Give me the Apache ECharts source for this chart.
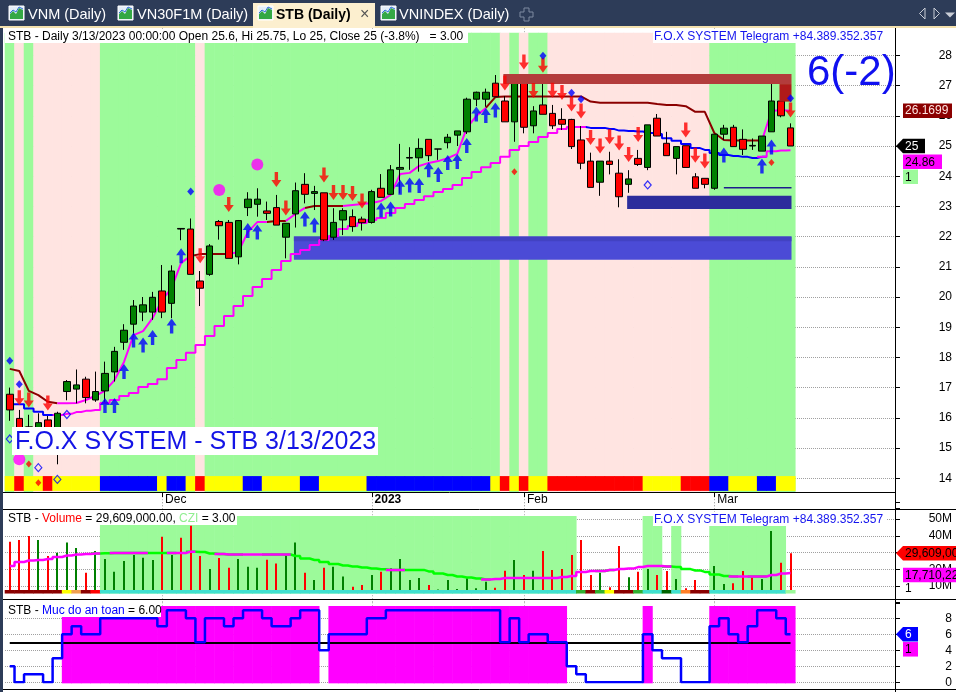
<!DOCTYPE html>
<html>
<head>
<meta charset="utf-8">
<title>STB (Daily)</title>
<script src="https://cdn.jsdelivr.net/npm/echarts@6.0.0/dist/echarts.min.js"></script>
<style>
html,body{margin:0;padding:0;background:#fff;overflow:hidden}
#chart{width:956px;height:692px}
</style>
</head>
<body>
<div id="chart"></div>
<script>
// ================= DATA =================
const DATES = [
 '2022-11-09','2022-11-10','2022-11-11','2022-11-14','2022-11-15','2022-11-16','2022-11-17','2022-11-18','2022-11-21','2022-11-22',
 '2022-11-23','2022-11-24','2022-11-25','2022-11-28','2022-11-29','2022-11-30','2022-12-01','2022-12-02','2022-12-05','2022-12-06',
 '2022-12-07','2022-12-08','2022-12-09','2022-12-12','2022-12-13','2022-12-14','2022-12-15','2022-12-16','2022-12-19','2022-12-20',
 '2022-12-21','2022-12-22','2022-12-23','2022-12-26','2022-12-27','2022-12-28','2022-12-29','2022-12-30','2023-01-03','2023-01-04',
 '2023-01-05','2023-01-06','2023-01-09','2023-01-10','2023-01-11','2023-01-12','2023-01-13','2023-01-16','2023-01-17','2023-01-18',
 '2023-01-19','2023-01-27','2023-01-30','2023-01-31','2023-02-01','2023-02-02','2023-02-03','2023-02-06','2023-02-07','2023-02-08',
 '2023-02-09','2023-02-10','2023-02-13','2023-02-14','2023-02-15','2023-02-16','2023-02-17','2023-02-20','2023-02-21','2023-02-22',
 '2023-02-23','2023-02-24','2023-02-27','2023-02-28','2023-03-01','2023-03-02','2023-03-03','2023-03-06','2023-03-07','2023-03-08',
 '2023-03-09','2023-03-10','2023-03-13'];

const OPEN = [
 16.78,15.98,15.70,15.50,15.93,15.55,16.87,16.95,17.28,16.59,
 16.89,17.52,18.50,19.10,19.50,19.50,20.20,19.79,22.25,22.25,
 20.53,20.75,22.50,22.47,21.33,22.96,23.07,22.85,22.96,21.98,
 22.75,23.73,23.43,23.45,21.98,22.55,22.66,22.58,22.47,23.60,
 23.40,24.23,24.60,24.61,25.22,24.90,25.11,25.36,25.47,26.55,
 26.55,27.08,26.49,25.80,27.08,25.67,26.36,26.08,25.88,25.88,
 25.20,24.50,23.80,24.50,24.10,23.73,24.59,24.29,25.92,25.09,
 24.59,25.01,23.98,23.93,23.60,25.39,25.62,25.22,25.00,24.83,
 25.47,26.49,25.60];
const HIGH = [
 17.00,16.26,16.10,16.15,16.06,16.20,17.25,17.60,17.36,17.53,
 17.86,18.35,19.10,19.90,20.00,20.17,21.06,21.05,22.27,22.60,
 20.86,21.75,22.55,22.55,22.55,23.47,23.60,23.16,23.38,22.44,
 23.79,24.10,23.68,23.45,22.94,22.94,22.90,22.66,23.55,24.07,
 24.37,25.07,24.96,25.25,25.22,24.90,25.40,25.50,26.60,26.80,
 26.90,27.35,26.65,27.24,27.24,26.32,27.10,26.36,26.25,25.90,
 25.66,24.78,24.50,24.81,24.56,24.20,24.87,25.70,26.06,25.47,
 24.98,25.01,24.10,23.93,25.39,25.70,25.70,25.55,25.25,25.33,
 27.08,26.60,25.75];
const LOW = [
 15.90,15.50,15.30,15.40,15.50,14.46,16.58,16.48,16.48,16.53,
 16.53,17.20,18.25,18.75,19.20,19.24,19.30,19.30,21.88,20.75,
 19.70,20.70,21.90,21.28,21.08,22.68,22.66,22.55,22.38,21.28,
 22.30,23.10,22.88,21.85,21.89,22.05,22.16,22.20,22.43,23.30,
 23.40,23.43,24.21,24.15,24.50,24.54,24.92,25.00,25.40,26.32,
 26.30,26.63,25.80,25.14,25.42,25.42,26.05,25.56,25.53,24.90,
 24.23,23.63,23.35,24.06,22.97,23.45,24.34,24.20,25.33,24.68,
 24.06,24.29,23.60,23.60,23.55,25.20,24.98,24.70,24.87,24.83,
 25.47,25.95,25.00];
const CLOSE = [
 16.26,15.60,15.50,15.84,15.60,16.15,17.20,17.09,16.67,16.87,
 17.47,18.20,18.90,19.70,19.74,19.99,19.50,20.86,22.27,20.75,
 20.29,21.69,22.36,21.28,22.53,23.24,23.24,22.77,22.38,22.44,
 23.52,23.40,23.49,21.89,22.47,22.86,22.33,22.46,23.49,23.30,
 24.21,24.29,24.62,24.92,24.68,24.90,25.29,25.50,26.55,26.78,
 26.78,26.63,25.80,27.08,25.62,26.16,26.05,25.67,25.72,24.98,
 24.43,23.63,24.50,24.39,23.32,23.91,24.39,25.70,25.33,24.68,
 24.98,24.29,23.60,23.73,25.39,25.59,24.98,24.89,25.02,25.33,
 26.49,26.00,25.00];

// fast trailing line (dark red = R / magenta = M)
const FAST_LINE = [
 17.62,17.55,16.89,16.75,16.53,16.48,16.48,16.49,16.59,16.73,
 16.89,17.25,17.85,18.74,18.87,19.30,19.90,20.30,21.13,21.36,
 21.42,21.42,21.42,21.42,21.49,22.15,22.48,22.48,22.52,22.52,
 22.75,22.95,23.01,23.01,23.01,23.01,23.05,23.08,23.11,23.18,
 23.38,24.07,24.11,24.34,24.44,24.50,24.60,24.74,25.60,25.99,
 26.26,26.62,26.64,26.64,26.64,26.64,26.64,26.64,26.64,26.64,
 26.64,26.47,26.43,26.43,26.43,26.43,26.43,26.43,26.39,26.36,
 26.36,26.32,26.13,26.13,25.43,25.20,25.18,25.18,25.18,25.18,
 26.16,26.19,26.17];
const FAST_STATE = 'RRRRRRMMMMMMMMMMMMMMRRRRMMMMRRMMRRRRMMMMMMMMMMMMMMMRRRRRRRRRRRRRRRRRRRRRRRRRRRRRMMM';

// slow staircase line (blue = B / magenta = M)
const SLOW_LINE = [
 16.45,16.45,16.31,16.20,16.09,16.09,16.13,16.19,16.23,16.26,
 16.49,16.59,16.72,16.82,17.02,17.12,17.28,17.65,17.91,18.15,
 18.41,18.71,19.04,19.37,19.70,20.03,20.33,20.60,20.89,21.19,
 21.42,21.56,21.72,21.89,22.02,22.25,22.35,22.45,22.55,22.62,
 22.78,22.95,23.08,23.21,23.34,23.48,23.58,23.71,23.94,24.14,
 24.30,24.44,24.64,24.87,25.00,25.13,25.30,25.43,25.56,25.63,
 25.63,25.60,25.60,25.56,25.51,25.50,25.48,25.43,25.40,25.26,
 25.17,25.07,24.93,24.87,24.77,24.70,24.67,24.64,24.60,24.64,
 24.83,24.85,24.86];
const SLOW_STATE = 'BBBBBBMMMMMMMMMMMMMMMMMMMMMMMMMMMMMMMMMMMMMMMMMMMMMMMMMMMMMMMBBBBBBBBBBBBBBBBBBBMMM';

// background regime of the price pane (G = green, P = pink)
const PRICE_REGIME = 'GPGPPPPPPPGGGGGGGGGGPGGGGGGGGGGGGGGGGGGGGGGGGGGGGGGGPGPGGPPPPPPPPPPPPPPPPPGGGGGGGGG';
// colour strip at the bottom of the price pane (Y / R / B)
const TREND_STRIP = 'YRYYRYYYYYBBBBBBYBBYRYYYYBBYYYYBBYYYYYBBBBBBBBBBBBBYRYRYYRRRRRRRRRRYYYYRRRBBYYYBBYY';

// signals [bar index, price]
const SELL_SIGNALS = [[1,16.66],[2,16.59],[4,16.49],[20,21.37],[23,23.06],[28,23.89],[29,22.95],[33,24.04],[34,23.46],[35,23.46],[36,23.43],[37,23.18],[52,27.09],[54,27.78],[55,26.84],[56,27.67],[57,26.85],[58,26.77],[59,26.39],[60,26.16],[61,25.28],[62,25.00],[63,25.31],[64,25.10],[65,24.72],[66,25.38],[71,25.53],[72,24.69],[73,24.50],[82,26.19]];
const BUY_SIGNALS = [[10,16.41],[11,16.41],[12,17.53],[13,18.58],[14,18.41],[15,18.66],[17,19.04],[18,21.37],[25,22.20],[26,22.15],[31,22.58],[32,22.38],[39,22.88],[40,22.91],[41,23.63],[42,23.71],[43,23.69],[44,24.21],[45,24.06],[46,24.45],[47,24.49],[48,25.02],[49,26.06],[50,26.01],[51,26.19],[75,24.70],[79,24.34],[80,24.97]];
const BLUE_DOTS = [[0,17.89],[1,17.11],[19,23.49],[56,27.99],[59,26.76],[60,26.55],[82,26.58]];
const MAGENTA_DOTS = [[1,14.63],[22,23.54],[26,24.39]];
const RED_DOTS = [[2,14.47],[3,13.85],[53,24.15],[80,24.45]];
const HOLLOW_DOTS = [[0,15.30],[3,14.35],[5,13.96],[6,16.11],[67,23.71]];

// zones [start bar, end bar, upper price, lower price]
const SUPPORT_ZONES = [[30,82,22.00,21.23],[30,82,22.00,21.85],[65,82,23.35,22.91]];
const RESIST_ZONES = [[52,82,27.38,27.05],[81,82,27.05,26.47]];
const LEVELS = [[75,82,23.62]];

// volume (millions)
const VOLUME_M = [
 36.4,37.5,39.9,37.5,27.9,29.9,35.9,32.7,17.9,30.9,
 26.1,18.5,24.9,28.5,26.9,25.5,39.4,28.5,38.8,46.0,
 27.9,20.1,26.7,20.9,26.1,21.5,20.9,25.7,23.5,29.1,
 35.9,17.9,13.6,20.9,21.5,15.6,9.6,10.6,16.6,18.5,
 20.6,26.1,13.6,14.8,10.6,7.9,13.6,8.2,14.6,8.6,
 12.6,9.0,19.1,25.5,16.6,19.1,30.9,19.6,20.1,28.5,
 37.5,16.6,17.9,9.2,33.9,15.2,18.5,20.1,16.6,19.0,
 14.2,8.6,13.6,7.2,21.9,11.2,11.6,19.0,16.0,14.2,
 42.8,23.9,29.609];
const VOLUME_DIR = 'DDDUDUUUDUUUUUUUDUDDDUDDUUUDDUUDUDUUDDUDUUUUDUUUUUUDDUDUDDDDDDUDDUDUDDUDDDUUDDDUUDD';
const VOLUME_MA_M = [
 21.9,24.3,25.2,25.5,26.1,27.3,28.2,28.8,29.1,29.4,
 29.5,29.7,29.7,29.7,29.7,29.7,29.7,29.7,29.7,30.5,
 30.3,29.4,29.1,28.8,28.8,28.8,28.8,28.8,28.8,28.8,
 27.9,26.4,25.5,24.3,23.1,22.2,21.6,21.0,20.4,20.0,
 19.6,19.6,19.6,19.6,18.7,17.5,16.6,15.7,15.1,14.5,
 13.9,14.2,14.8,14.8,14.8,14.8,14.8,14.8,15.4,16.0,
 18.4,19.0,19.0,19.6,20.1,20.4,21.3,21.9,21.9,21.6,
 21.3,20.1,19.3,18.4,16.9,16.0,15.7,15.7,15.7,15.7,
 16.6,17.5,17.71];
const VOLUME_MA_STATE = 'MMMMMMMMMMGGMGMGGGMMGGGMGMMMGMGGGGGGGGGGGMGGGGGGGGGMMMMMMMMMMMMGMMMMMMGGGGGGGMMGMMM';
const CZI_ZONE = '000000000011111111111111111111111111111111111111111111111111000000011010001111111100';
const CZI_STRIP = 'DDDDDDYODRCCCCCCCCCCCCCCCCCCCCCCCCCCCCCCCCCCCCCCCCCCCCCCCCCCGDGYDDGCCKCADDCCCCCCCCL';

// safety level ("Muc do an toan")
const SAFETY = [
 2,0,1,1,0,3,6,7,6,6,
 8,8,8,8,8,8,7,9,9,8,
 5,8,8,7,8,9,9,8,7,7,
 8,9,9,4,6,6,6,6,8,8,
 9,9,9,9,9,9,9,9,9,9,
 9,9,5,8,5,6,6,5,5,2,
 1,0,0,0,0,0,0,6,4,3,
 3,0,0,0,7,8,6,5,7,9,
 9,8,6];
const SAFETY_THRESHOLD = 5;

// axis tick labels
const TICK_DATES = ['2022-12-01','2023-01-03','2023-02-01','2023-03-01'];
const TICK_LABELS = ['Dec','2023','Feb','Mar'];

// last-value tags
const PRICE_TAG_VALUES = [26.1699, 25, 24.86, 1];
const VOLUME_TAG_VALUES = [29609000, 17710225, 1];
const SAFETY_TAG_VALUES = [6, 1];

// ================= STYLE / LAYOUT =================
const FONT = '"Liberation Sans", Arial, Helvetica, sans-serif';
const C_GREEN_BG = '#9cfa9a', C_PINK_BG = '#ffe4e1';
const N_SLOTS = 94;
const CATS = DATES.concat(Array.from({length: N_SLOTS - DATES.length}, (_, k) => 'pad' + k));
const TICK_IDX = TICK_DATES.map(d => DATES.indexOf(d));
const PRICE_BAND = [28.75, 13.54];
const PRICE_STRIP = [14.07, 13.58];
const VOL_BAND = [51.8, 5.5];
const VOL_STRIP = [7.6, 5.5];
const SAFE_BAND = [9.54, -0.13];

const STRIP_COLORS = {Y:'#ffff00', R:'#ff0000', B:'#0000ff'};
const CZI_COLORS = {D:'#8b0000', Y:'#ffff00', O:'#f0a050', R:'#ff0000', C:'#40e0d0', G:'#30b030', K:'#006400', A:'#ff7f27', L:'#9cfa9a'};

function emptyEl(){ return {type:'group', children:[]}; }

function columns(grid, z, colorOf, range, fixedW){
  return {type:'custom', xAxisIndex:grid, yAxisIndex:grid, z, silent:true, clip:false,
    data: DATES.map((d, i) => [i, range[0]]),
    renderItem(params, api){
      const i = params.dataIndex; const c = colorOf(i);
      if (!c) return emptyEl();
      const p1 = api.coord([i, range[0]]), p2 = api.coord([i, range[1]]);
      const w = fixedW || api.size([1, 0])[0] + 0.6;
      return {type:'rect', shape:{x:p1[0] - w/2, y:p1[1], width:w, height:p2[1] - p1[1]}, style:{fill:c}};
    }};
}

function monthLines(grid){
  return {type:'custom', xAxisIndex:grid, yAxisIndex:grid, z:1, silent:true, clip:false,
    data: TICK_IDX.map(i => [i, 0]),
    renderItem(params, api){
      const cs = params.coordSys;
      const x = Math.round(api.coord([TICK_IDX[params.dataIndex], 0])[0]) + 0.5;
      return {type:'line', shape:{x1:x, y1:cs.y, x2:x, y2:cs.y + cs.height},
        style:{stroke:'#a8a8a8', lineWidth:1, lineDash:[1, 2]}};
    }};
}

function splitState(vals, state, s){
  return vals.map((v, i) => (state[i] === s || state[i + 1] === s) ? v : null);
}

function stateLine(grid, vals, state, s, color, width, step, z){
  return {type:'line', xAxisIndex:grid, yAxisIndex:grid, data: splitState(vals, state, s),
    symbol:'none', step: step || false, connectNulls:false, silent:true, z: z || 4,
    lineStyle:{color, width}, emphasis:{disabled:true}};
}

function zones(list, colors, z){
  return {type:'custom', xAxisIndex:0, yAxisIndex:0, z, silent:true, clip:false,
    data: list.map(r => [r[0], r[2]]),
    renderItem(params, api){
      const r = list[params.dataIndex];
      const a = api.coord([r[0], r[2]]), b = api.coord([r[1], r[3]]);
      return {type:'rect', shape:{x:a[0] - 1.5, y:a[1], width:b[0] - a[0] + 2.5, height:b[1] - a[1]},
        style:{fill:colors[params.dataIndex]}};
    }};
}

function markers(data, symbol, size, style, z){
  return {type:'scatter', xAxisIndex:0, yAxisIndex:0, data, symbol, symbolSize:size,
    itemStyle:style, silent:true, z: z || 7, emphasis:{disabled:true}};
}

function tags(grid, values, styles, fmt){
  return {type:'custom', xAxisIndex:grid, yAxisIndex:grid, z:30, silent:true, clip:false,
    data: values.map(v => [0, 0]),
    renderItem(params, api){
      const cs = params.coordSys;
      const ax = cs.x + cs.width - 4;
      const ys = [];
      for (let j = 0; j < values.length; j++){
        const s = styles[j];
        ys[j] = s.below ? ys[j - 1] + s.below : api.coord([0, values[j]])[1] + (s.push || 0);
      }
      const k = params.dataIndex, s = styles[k], y = ys[k], h = 14.5, x0 = ax + 7;
      const ch = [];
      if (s.bg){
        if (s.arrow) ch.push({type:'polygon', shape:{points:[[ax, y],[x0, y - h/2],[x0 + s.w, y - h/2],[x0 + s.w, y + h/2],[x0, y + h/2]]}, style:{fill:s.bg}});
        else ch.push({type:'rect', shape:{x:x0, y:y - h/2, width:s.w, height:h}, style:{fill:s.bg}});
      }
      ch.push({type:'text', x:x0 + 2, y:y + 0.5, style:{text:fmt(values[k]), fill:s.fg, font:'12px ' + FONT, align:'left', verticalAlign:'middle'}});
      return {type:'group', children:ch};
    }};
}

const ARROW_DOWN = 'path://M3.3,0L6.7,0L6.7,8L10,8L5,15L0,8L3.3,8Z';
const ARROW_UP = 'path://M5,0L10,7L6.7,7L6.7,15L3.3,15L3.3,7L0,7Z';

const priceFmt = v => (v < 14 || v > 28) ? '' : String(v);
const axisLabelBase = {color:'#000', fontSize:12, fontFamily:FONT, align:'right', margin:56};
const splitBase = {show:true, showMinLine:false, showMaxLine:false, lineStyle:{color:'#a0a0a0', type:'dotted', width:1}};
const tickBase = {show:true, length:4, lineStyle:{color:'#000', width:1}};

const grids = [
  {left:5, right:56, top:25.2, height:483.2, outerBoundsMode:'none', containLabel:false},
  {left:5, right:56, top:502.25, height:100.5, outerBoundsMode:'none', containLabel:false},
  {left:5, right:56, top:602.3, height:80, outerBoundsMode:'none', containLabel:false}
];

const xAxes = [0, 1, 2].map(g => ({
  type:'category', gridIndex:g, data:CATS, boundaryGap:true, show: g === 0,
  axisLine:{show:false}, axisTick:{show:false}, splitLine:{show:false},
  axisLabel: g === 0 ? {
    inside:true, margin:3, align:'left', padding:[0, 0, 0, 3], color:'#000', fontSize:12, fontFamily:FONT,
    interval:(idx) => TICK_IDX.indexOf(idx) >= 0,
    formatter:(val) => { const k = TICK_DATES.indexOf(val); if (k < 0) return ''; return k === 1 ? '{b|' + TICK_LABELS[k] + '}' : TICK_LABELS[k]; },
    rich:{b:{fontWeight:'bold', fontSize:12, fontFamily:FONT, color:'#000'}}
  } : {show:false}
}));

const yAxes = [
  {type:'value', gridIndex:0, position:'right', offset:-4, min:13, max:29, interval:1, scale:true,
   axisLine:{show:false}, axisTick:tickBase, splitLine:splitBase,
   axisLabel:Object.assign({}, axisLabelBase, {formatter:priceFmt})},
  {type:'value', gridIndex:1, position:'right', offset:-4, min:0, max:60, interval:10,
   axisLine:{show:false}, axisTick:tickBase, splitLine:splitBase,
   axisLabel:Object.assign({}, axisLabelBase, {formatter:v => (v > 0 && v < 60) ? v + 'M' : ''})},
  {type:'value', gridIndex:2, position:'right', offset:-4, min:0, max:10, interval:2,
   axisLine:{show:false}, axisTick:tickBase, splitLine:Object.assign({}, splitBase, {showMinLine:true}),
   axisLabel:Object.assign({}, axisLabelBase, {formatter:v => v < 10 ? String(v) : ''})}
];

const series = [
  // ---- price pane ----
  monthLines(0),
  columns(0, 2, i => PRICE_REGIME[i] === 'G' ? C_GREEN_BG : C_PINK_BG, PRICE_BAND),
  columns(0, 3, i => STRIP_COLORS[TREND_STRIP[i]], PRICE_STRIP),
  zones(SUPPORT_ZONES, ['#4b4bd6', '#4242c2', '#2c2c9c'], 3),
  {type:'custom', xAxisIndex:0, yAxisIndex:0, z:3, silent:true, clip:false,
   data: LEVELS.map(l => [l[0], l[2]]),
   renderItem(params, api){ const l = LEVELS[params.dataIndex]; const a = api.coord([l[0], l[2]]), b = api.coord([l[1], l[2]]);
     return {type:'line', shape:{x1:a[0], y1:a[1], x2:b[0] + 1, y2:b[1]}, style:{stroke:'#1c1c8c', lineWidth:1.5}}; }},
  stateLine(0, SLOW_LINE, SLOW_STATE, 'B', '#0000ff', 2, 'middle'),
  stateLine(0, SLOW_LINE, SLOW_STATE, 'M', '#ff00ff', 2, 'middle'),
  stateLine(0, FAST_LINE, FAST_STATE, 'R', '#8b0000', 2),
  stateLine(0, FAST_LINE, FAST_STATE, 'M', '#ff00ff', 2),
  {type:'candlestick', xAxisIndex:0, yAxisIndex:0, z:5, silent:true, barWidth:7,
   data: OPEN.map((o, i) => [o, CLOSE[i], LOW[i], HIGH[i]]),
   itemStyle:{color:'#008000', color0:'#ff0000', borderColor:'#000', borderColor0:'#000', borderColorDoji:'#000', borderWidth:1},
   emphasis:{disabled:true}},
  zones(RESIST_ZONES, ['#b33c3c', '#b01a1a'], 6),
  markers(SELL_SIGNALS, ARROW_DOWN, [10, 15], {color:'#ff0000'}),
  markers(BUY_SIGNALS, ARROW_UP, [10, 15], {color:'#0000ff'}),
  markers(BLUE_DOTS, 'diamond', [7, 8], {color:'#0000ff'}),
  markers(MAGENTA_DOTS, 'circle', 12, {color:'#ff00ff'}),
  markers(RED_DOTS, 'diamond', [6, 7], {color:'#ff0000'}),
  markers(HOLLOW_DOTS, 'diamond', [7, 8], {color:'rgba(255,255,255,0)', borderColor:'#0000ff', borderWidth:1.2}),
  {type:'custom', xAxisIndex:0, yAxisIndex:0, z:8, silent:true, clip:false,
   data: TICK_IDX.map(i => [i, PRICE_BAND[1]]),
   renderItem(params, api){ const p = api.coord([TICK_IDX[params.dataIndex], PRICE_BAND[1]]); const x = Math.round(p[0]) + 0.5;
     return {type:'line', shape:{x1:x, y1:p[1], x2:x, y2:p[1] + 5}, style:{stroke:'#000', lineWidth:1}}; }},
  tags(0, PRICE_TAG_VALUES, [
    {bg:'#8b0000', fg:'#ffe4e1', w:49},
    {bg:'#000000', fg:'#ffffff', w:22, arrow:true},
    {bg:'#ff00ff', fg:'#000000', w:39, push:11.5},
    {bg:'#9cfa9a', fg:'#000000', w:15, below:15}
  ], v => String(v)),

  // ---- volume pane ----
  monthLines(1),
  columns(1, 2, i => CZI_ZONE[i] === '1' ? C_GREEN_BG : null, VOL_BAND),
  {type:'custom', xAxisIndex:1, yAxisIndex:1, z:4, silent:true, clip:false,
   data: VOLUME_M.map((v, i) => [i, v]),
   renderItem(params, api){ const i = params.dataIndex; const a = api.coord([i, VOLUME_M[i]]), b = api.coord([i, VOL_STRIP[0]]);
     return {type:'rect', shape:{x:Math.round(a[0]) - 1, y:a[1], width:2, height:b[1] - a[1]}, style:{fill: VOLUME_DIR[i] === 'U' ? '#008000' : '#ff0000'}}; }},
  stateLine(1, VOLUME_MA_M, VOLUME_MA_STATE, 'G', '#00ff00', 2.5, 'middle', 5),
  stateLine(1, VOLUME_MA_M, VOLUME_MA_STATE, 'M', '#ff00ff', 2.5, 'middle', 5),
  columns(1, 6, i => CZI_COLORS[CZI_STRIP[i]], VOL_STRIP),
  tags(1, VOLUME_TAG_VALUES.map(v => v > 1000 ? v / 1e6 : v), [
    {bg:'#ff0000', fg:'#000000', w:60, arrow:true},
    {bg:'#ff00ff', fg:'#000000', w:60, push:1.9},
    {bg:null, fg:'#000000', w:0, below:13}
  ], v => v > 1 ? Math.round(v * 1e6).toLocaleString('en-US') : String(v)),

  // ---- safety pane ----
  monthLines(2),
  columns(2, 2, i => SAFETY[i] >= SAFETY_THRESHOLD ? '#ff00ff' : null, SAFE_BAND),
  {type:'line', xAxisIndex:2, yAxisIndex:2, data:SAFETY, step:'middle', symbol:'none', silent:true, z:5,
   lineStyle:{color:'#0000ff', width:2.5}, emphasis:{disabled:true},
   markLine:{silent:true, symbol:'none', label:{show:false}, lineStyle:{color:'#000', width:2, type:'solid'},
     data:[[{coord:[0, SAFETY_THRESHOLD]}, {coord:[DATES.length - 1, SAFETY_THRESHOLD]}]]}},
  tags(2, SAFETY_TAG_VALUES, [
    {bg:'#0000ff', fg:'#ffffff', w:15, arrow:true},
    {bg:'#ff00ff', fg:'#000000', w:15, below:15}
  ], v => String(v))
];

// ---------- decorations (tabs, titles, separators) ----------
const NAVY = '#2d3c58';
function tabIcon(x){
  return [
    {type:'rect', shape:{x:x, y:6, width:15, height:14}, style:{fill:'#e4eef8', stroke:'#ffffff', lineWidth:1}, z:102},
    {type:'polygon', shape:{points:[[x+1,19],[x+1,14],[x+4,11],[x+7,14],[x+10,8],[x+14,10],[x+14,19]]}, style:{fill:'#34a845'}, z:103},
    {type:'polyline', shape:{points:[[x+1,13],[x+4,10],[x+7,12],[x+10,7],[x+14,9]]}, style:{stroke:'#2f6fd8', lineWidth:1, fill:null}, z:103}
  ];
}
function txt(x, y, text, font, fill, extra){
  return Object.assign({type:'text', x, y, z:110, silent:true, style:{text, font, fill, align:'left', verticalAlign:'middle'}}, extra || {});
}
function box(x, y, w, h, fill){ return {type:'rect', shape:{x, y, width:w, height:h}, style:{fill: fill || '#fff'}, z:105, silent:true}; }
function hline(y, x1, x2){ return {type:'line', shape:{x1, y1:y, x2, y2:y}, style:{stroke:'#000', lineWidth:1}, z:108, silent:true}; }

const TAB_FONT = '14.5px ' + FONT;
const graphic = [
  {type:'rect', shape:{x:0, y:0, width:956, height:27}, style:{fill:NAVY}, z:100, silent:true},
  {type:'rect', shape:{x:0, y:26, width:956, height:2}, style:{fill:'#f3e1ae'}, z:101, silent:true},
  {type:'rect', shape:{x:253, y:3, width:122, height:25}, style:{fill:'#fcefcf'}, z:101, silent:true},
  {type:'rect', shape:{x:0, y:27, width:3, height:665}, style:{fill:NAVY}, z:100, silent:true},
  ...tabIcon(9), ...tabIcon(118), ...tabIcon(258), ...tabIcon(381),
  txt(28, 15, 'VNM (Daily)', TAB_FONT, '#ffffff'),
  txt(137, 15, 'VN30F1M (Daily)', TAB_FONT, '#ffffff'),
  txt(276, 15, 'STB (Daily)', 'bold 14px ' + FONT, '#000000'),
  txt(360, 15, '×', '16px ' + FONT, '#555555'),
  txt(399, 15, 'VNINDEX (Daily)', TAB_FONT, '#ffffff'),
  {type:'polygon', shape:{points:[[524,8],[529,8],[529,12],[533,12],[533,17],[529,17],[529,21],[524,21],[524,17],[520,17],[520,12],[524,12]]}, style:{fill:null, stroke:'#7f8aa0', lineWidth:1}, z:102, silent:true},
  {type:'polygon', shape:{points:[[925,8],[925,19],[919.5,13.5]]}, style:{fill:null, stroke:'#c9cdd6', lineWidth:1}, z:102, silent:true},
  {type:'polygon', shape:{points:[[934,8],[934,19],[939.5,13.5]]}, style:{fill:null, stroke:'#c9cdd6', lineWidth:1}, z:102, silent:true},
  {type:'polygon', shape:{points:[[945,12.5],[955,12.5],[950,17.5]]}, style:{fill:'#c9cdd6'}, z:102, silent:true},

  box(5, 29, 463, 14), txt(8, 36.5, 'STB - Daily 3/13/2023 00:00:00 Open 25.6, Hi 25.75, Lo 25, Close 25 (-3.8%)   = 3.00', '12px ' + FONT, '#000'),
  box(653, 29, 233, 14), txt(654, 36.5, 'F.O.X SYSTEM Telegram +84.389.352.357', '12px ' + FONT, '#1414ee'),
  txt(807, 73, '6(-2)', '42px ' + FONT, '#1010f0'),
  box(12, 427, 366, 28), txt(15, 442, 'F.O.X SYSTEM - STB 3/13/2023', '25px ' + FONT, '#1414e6'),

  box(5, 512, 232, 13),
  {type:'text', x:8, y:519, z:110, silent:true, style:{
    text:'{k|STB - }{r|Volume}{k| = 29,609,000.00, }{g|CZI}{k| = 3.00}', verticalAlign:'middle', align:'left',
    rich:{k:{fill:'#000', font:'12px ' + FONT}, r:{fill:'#ff0000', font:'12px ' + FONT}, g:{fill:'#90ee90', font:'12px ' + FONT}}}},
  box(653, 512, 233, 14), txt(654, 519.5, 'F.O.X SYSTEM Telegram +84.389.352.357', '12px ' + FONT, '#1414ee'),

  box(5, 604, 156, 13),
  {type:'text', x:8, y:611, z:110, silent:true, style:{
    text:'{k|STB - }{b|Muc do an toan}{k| = 6.00}', verticalAlign:'middle', align:'left',
    rich:{k:{fill:'#000', font:'12px ' + FONT}, b:{fill:'#0000ff', font:'12px ' + FONT}}}},

  hline(492.5, 3, 896), hline(509.5, 3, 956), hline(599.5, 3, 956), hline(689.5, 3, 956),
  {type:'line', shape:{x1:895.5, y1:28, x2:895.5, y2:692}, style:{stroke:'#000', lineWidth:1}, z:108, silent:true}
];

const chart = echarts.init(document.getElementById('chart'), null, {renderer:'canvas'});
chart.setOption({
  animation:false,
  backgroundColor:'#ffffff',
  grid:grids, xAxis:xAxes, yAxis:yAxes, series, graphic
});
</script>
</body>
</html>
